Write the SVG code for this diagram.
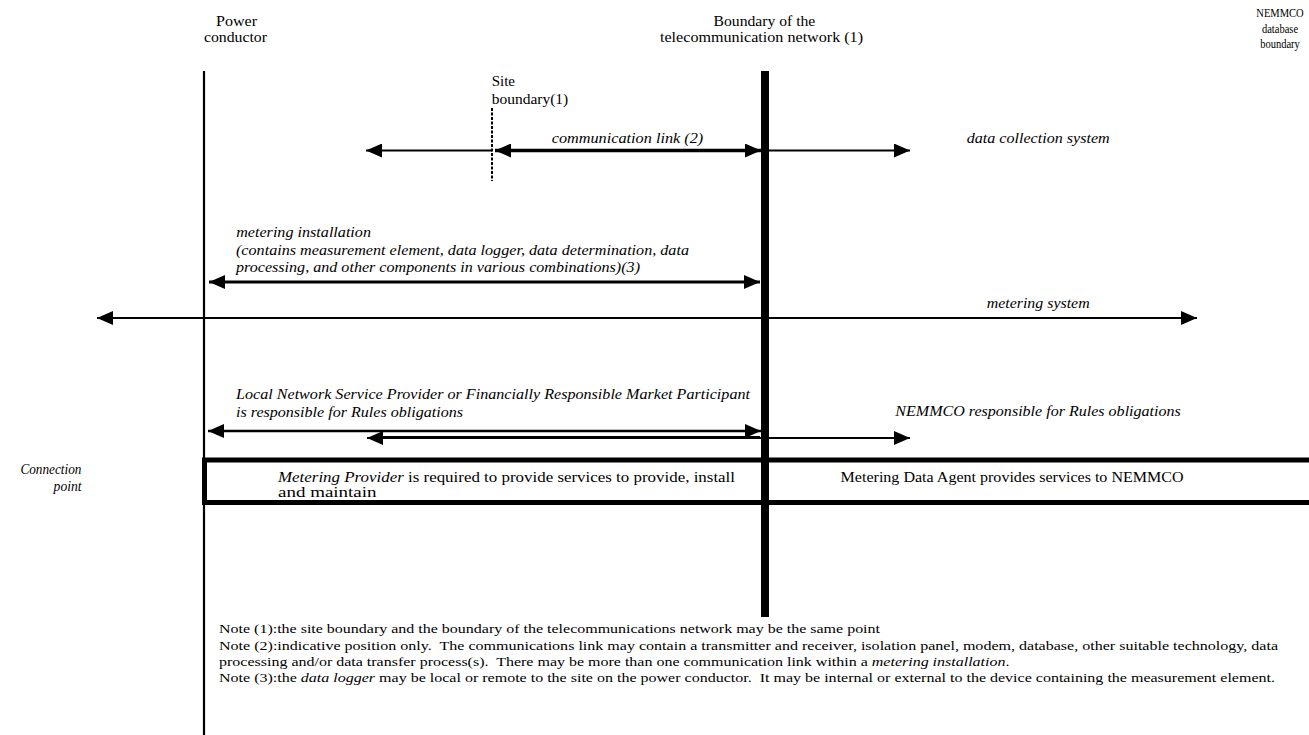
<svg xmlns="http://www.w3.org/2000/svg" width="1309" height="735" viewBox="0 0 1309 735">
<style>
text{font-family:'Liberation Serif','DejaVu Serif',serif;font-size:14px;fill:#000}
.i{font-style:italic}
.s{font-size:13.5px;text-anchor:middle}
.n{font-size:13px}
.ln{stroke:#000;fill:none}
</style>
<defs>
<marker id="ah" viewBox="0 0 16 14" refX="16" refY="7" markerWidth="16" markerHeight="14" markerUnits="userSpaceOnUse" orient="auto-start-reverse">
<path d="M0,0 L16,7 L0,14 Z" fill="#000"/>
</marker>
</defs>
<rect width="1309" height="735" fill="#fff"/>
<g id="power-conductor">
<line class="ln" x1="204" y1="71" x2="204" y2="735" stroke-width="2.2"/>
<text x="216" y="26" textLength="41" lengthAdjust="spacingAndGlyphs">Power</text>
<text x="204" y="42" textLength="63" lengthAdjust="spacingAndGlyphs">conductor</text>
</g>
<g id="telecom-boundary">
<line class="ln" x1="765" y1="71" x2="765" y2="617" stroke-width="8"/>
<text x="713.6" y="26" textLength="101.7" lengthAdjust="spacingAndGlyphs">Boundary of the</text>
<text x="660" y="42" textLength="203" lengthAdjust="spacingAndGlyphs">telecommunication network (1)</text>
</g>
<g id="nemmco-boundary" transform="translate(1280,0) scale(0.78,1)">
<text class="s" x="0" y="17">NEMMCO</text>
<text class="s" x="0" y="33">database</text>
<text class="s" x="0" y="48">boundary</text>
</g>
<g id="site-boundary">
<line class="ln" x1="492" y1="108" x2="492" y2="181" stroke-width="2" stroke-dasharray="3,1.5"/>
<text x="491.7" y="86" textLength="23.3" lengthAdjust="spacingAndGlyphs">Site</text>
<text x="491.7" y="104" textLength="76.6" lengthAdjust="spacingAndGlyphs">boundary(1)</text>
</g>
<g id="connection-point">
<text class="i" x="20.4" y="474" textLength="61" lengthAdjust="spacingAndGlyphs">Connection</text>
<text class="i" x="53.6" y="491" textLength="28" lengthAdjust="spacingAndGlyphs">point</text>
</g>
<g id="service-box">
<path class="ln" d="M1312,460 H204.5 V502.5 H1312" stroke-width="5"/>
<text x="278" y="482" textLength="457" lengthAdjust="spacingAndGlyphs"><tspan class="i">Metering Provider</tspan> is required to provide services to provide, install</text>
<text x="278" y="497" textLength="98.5" lengthAdjust="spacingAndGlyphs">and maintain</text>
<text x="840.6" y="482" textLength="343" lengthAdjust="spacingAndGlyphs">Metering Data Agent provides services to NEMMCO</text>
</g>
<g id="connectors">
<line class="ln" x1="492" y1="150.5" x2="366" y2="150.5" stroke-width="2" marker-end="url(#ah)"/>
<line class="ln" x1="495" y1="150.5" x2="761" y2="150.5" stroke-width="3.5" marker-start="url(#ah)" marker-end="url(#ah)"/>
<line class="ln" x1="769" y1="150.5" x2="910" y2="150.5" stroke-width="2" marker-end="url(#ah)"/>
<line class="ln" x1="209" y1="282" x2="760" y2="282" stroke-width="3" marker-start="url(#ah)" marker-end="url(#ah)"/>
<line class="ln" x1="97" y1="318" x2="1197" y2="318" stroke-width="2" marker-start="url(#ah)" marker-end="url(#ah)"/>
<line class="ln" x1="208" y1="431" x2="761" y2="431" stroke-width="2.5" marker-start="url(#ah)" marker-end="url(#ah)"/>
<line class="ln" x1="367" y1="438" x2="910" y2="438" stroke-width="2" marker-start="url(#ah)" marker-end="url(#ah)"/>
<line x1="383" y1="436.5" x2="760" y2="436.5" stroke="#000" stroke-width="1"/>
</g>
<g id="labels">
<text class="i" x="551.7" y="143" textLength="151.6" lengthAdjust="spacingAndGlyphs">communication link (2)</text>
<text class="i" x="966.7" y="143" textLength="143" lengthAdjust="spacingAndGlyphs">data collection system</text>
<text class="i" x="236.2" y="237" textLength="134.8" lengthAdjust="spacingAndGlyphs">metering installation</text>
<text class="i" x="236" y="255" textLength="453" lengthAdjust="spacingAndGlyphs">(contains measurement element, data logger, data determination, data</text>
<text class="i" x="236" y="272" textLength="404" lengthAdjust="spacingAndGlyphs">processing, and other components in various combinations)(3)</text>
<text class="i" x="986.7" y="308" textLength="103" lengthAdjust="spacingAndGlyphs">metering system</text>
<text class="i" x="236" y="399" textLength="514" lengthAdjust="spacingAndGlyphs">Local Network Service Provider or Financially Responsible Market Participant</text>
<text class="i" x="236" y="417" textLength="227" lengthAdjust="spacingAndGlyphs">is responsible for Rules obligations</text>
<text class="i" x="895.3" y="416" textLength="285.5" lengthAdjust="spacingAndGlyphs">NEMMCO responsible for Rules obligations</text>
</g>
<g id="notes">
<text class="n" x="219" y="633" textLength="661" lengthAdjust="spacingAndGlyphs">Note (1):the site boundary and the boundary of the telecommunications network may be the same point</text>
<text class="n" x="219" y="650" textLength="1059" lengthAdjust="spacingAndGlyphs" xml:space="preserve">Note (2):indicative position only.  The communications link may contain a transmitter and receiver, isolation panel, modem, database, other suitable technology, data</text>
<text class="n" x="219" y="666" textLength="790.5" lengthAdjust="spacingAndGlyphs" xml:space="preserve">processing and/or data transfer process(s).  There may be more than one communication link within a <tspan class="i">metering installation</tspan>.</text>
<text class="n" x="219" y="682" textLength="1056" lengthAdjust="spacingAndGlyphs" xml:space="preserve">Note (3):the <tspan class="i">data logger</tspan> may be local or remote to the site on the power conductor.  It may be internal or external to the device containing the measurement element.</text>
</g>
</svg>
